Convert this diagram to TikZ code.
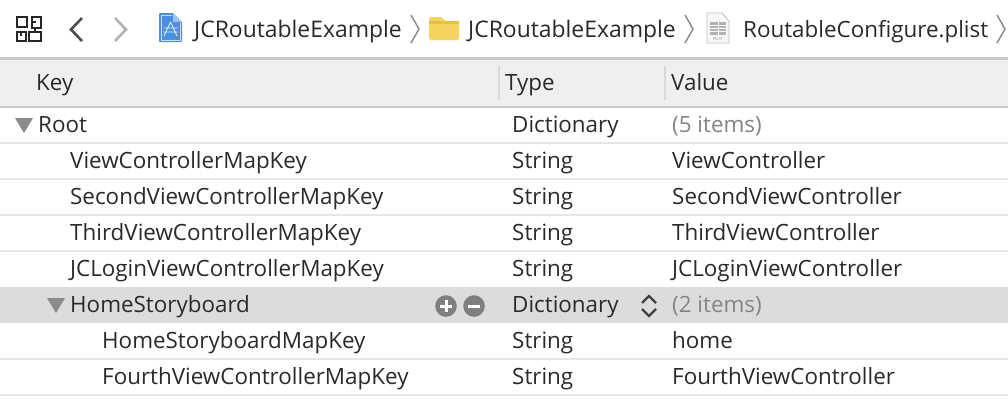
\documentclass[tikz,border=0pt]{standalone}
\usepackage{fontspec}
\setmainfont{Open Sans}
\definecolor{txt}{HTML}{2A2A2A}
\definecolor{greytxt}{HTML}{858585}
\definecolor{sep}{HTML}{E6E6E6}
\definecolor{hdr}{HTML}{EFEFEF}
\definecolor{hline}{HTML}{C9C9C9}
\definecolor{sel}{HTML}{DCDCDC}
\definecolor{ctl}{HTML}{7F7F7F}
\definecolor{appblue}{HTML}{4A90E2}
\definecolor{folder}{HTML}{F5D35F}
\definecolor{folderdark}{HTML}{E8BE45}
\tikzset{
  lbl/.style={anchor=base west,inner sep=0pt,text=txt,font=\fontsize{22.4}{24}\selectfont},
  path/.style={lbl,font=\fontsize{22.9}{24}\selectfont,text=txt},
  pathb/.style={lbl,font=\fontsize{22.4}{24}\selectfont,text=txt},
  dim/.style={lbl,text=greytxt},
  rowsep/.style={draw=sep,line width=2pt},
  crumb/.style={draw=gray!90,line width=1.5pt,line join=round},
  tri/.style={fill=ctl!90,draw=none}
}
\begin{document}
\begin{tikzpicture}[x=1pt,y=-1pt]
\useasboundingbox (0,0) rectangle (1008,400);
\fill[white] (0,0) rectangle (1008,400);
% toolbar
\begin{scope}[draw=black!85,line width=1.7pt]
\draw (17,17) rectangle (27,27);
\draw (32,17) rectangle (41,28) (32,22)--(36,22);
\draw (17,32) rectangle (26,41) (21,32)--(21,36);
\draw (29,32) rectangle (41,41) (35,28)--(35,32);
\end{scope}
\draw[draw=black!70,line width=2.6pt] (82,18)--(71,29.5)--(82,41);
\draw[draw=black!30,line width=2.6pt] (115,18)--(126,29.5)--(115,41);
% app icon
\fill[appblue,rounded corners=1pt] (159,13)--(173,13)--(182,22)--(182,42)--(159,42)--cycle;
\fill[appblue!55!white] (173,13)--(182,22)--(173,22)--cycle;
\draw[white!85!appblue,line width=.8pt] (170.5,22)--(164,36) (170.5,22)--(177,36) (163,32)--(178,32) (170.5,22)++(-7,6)--++(14,0);
\draw[white!70!appblue,line width=.7pt] (161,15)--(172,15) (161,15)--(161,40)--(180,40)--(180,23);
\node[path] (crumbA) at (194,37) {JCRoutableExample};
\draw[crumb] (411,15)--(419,29)--(411,43);
% folder
\fill[folder,rounded corners=1.5pt] (429,17)--(442,17)--(445,21)--(459,21)--(459,40)--(429,40)--cycle;
\fill[folderdark] (429,21) rectangle (459,24);
\node[path] (crumbB) at (468,37) {JCRoutableExample};
\draw[crumb] (685,15)--(693,29)--(685,43);
% plist icon
\draw[black!25,fill=black!3,line width=.8pt] (707,13)--(722,13)--(729,21)--(729,43)--(707,43)--cycle;
\fill[black!30] (710,22) rectangle (726,35);
\draw[white,line width=.6pt] (710,25)--(726,25) (710,28)--(726,28) (710,31)--(726,31) (718,22)--(718,35);
\node[inner sep=0pt,text=black!45,font=\fontsize{4}{4}\selectfont] (plist) at (718,39) {PLIST};
\node[pathb] (crumbC) at (743,37) {RoutableConfigure.plist};
\draw[crumb] (997,15)--(1005,29)--(997,43);
% header
\fill[hdr] (0,59) rectangle (1008,107);
\draw[hline,line width=2.5pt] (0,58.5)--(1008,58.5);
\draw[hline,line width=2.5pt] (0,107)--(1008,107);
\draw[black!15,line width=1.5pt] (499,66)--(499,100) (665,66)--(665,100);
\node[lbl] (hKey) at (36,90) {Key};
\node[lbl] (hType) at (505,90) {Type};
\node[lbl] (hValue) at (671,90) {Value};
% rows
\fill[sel] (0,287) rectangle (1008,323);
\foreach \y in {143,179,215,251,359,395} \draw[rowsep] (0,\y)--(1008,\y);
\fill[tri] (15,118)--(33,118)--(24,133)--cycle;
\fill[tri] (47,298)--(65,298)--(56,313)--cycle;
\node[lbl] (k0) at (38,132) {Root};
\node[lbl] (t0) at (512,132) {Dictionary};
\node[dim] (v0) at (672,132) {(5 items)};
\node[lbl] (k1) at (70,168) {ViewControllerMapKey};
\node[lbl] (t1) at (512,168) {String};
\node[lbl] (v1) at (672,168) {ViewController};
\node[lbl] (k2) at (70,204) {SecondViewControllerMapKey};
\node[lbl] (t2) at (512,204) {String};
\node[lbl] (v2) at (672,204) {SecondViewController};
\node[lbl] (k3) at (70,240) {ThirdViewControllerMapKey};
\node[lbl] (t3) at (512,240) {String};
\node[lbl] (v3) at (672,240) {ThirdViewController};
\node[lbl] (k4) at (70,276) {JCLoginViewControllerMapKey};
\node[lbl] (t4) at (512,276) {String};
\node[lbl] (v4) at (672,276) {JCLoginViewController};
\node[lbl] (k5) at (70,312) {HomeStoryboard};
\node[lbl] (t5) at (512,312) {Dictionary};
\node[dim] (v5) at (672,312) {(2 items)};
\node[lbl] (k6) at (102,348) {HomeStoryboardMapKey};
\node[lbl] (t6) at (512,348) {String};
\node[lbl] (v6) at (672,348) {home};
\node[lbl] (k7) at (102,384) {FourthViewControllerMapKey};
\node[lbl] (t7) at (512,384) {String};
\node[lbl] (v7) at (672,384) {FourthViewController};
% plus / minus
\fill[ctl] (446,306) circle (10.8);
\fill[ctl] (474,306) circle (10.8);
\draw[white,line width=3pt] (440,306)--(452,306) (446,300)--(446,312) (468,306)--(480,306);
% stepper
\draw[black!75,line width=2.2pt] (642,303)--(649,296)--(656,303) (642,309)--(649,316)--(656,309);
\end{tikzpicture}
\end{document}
